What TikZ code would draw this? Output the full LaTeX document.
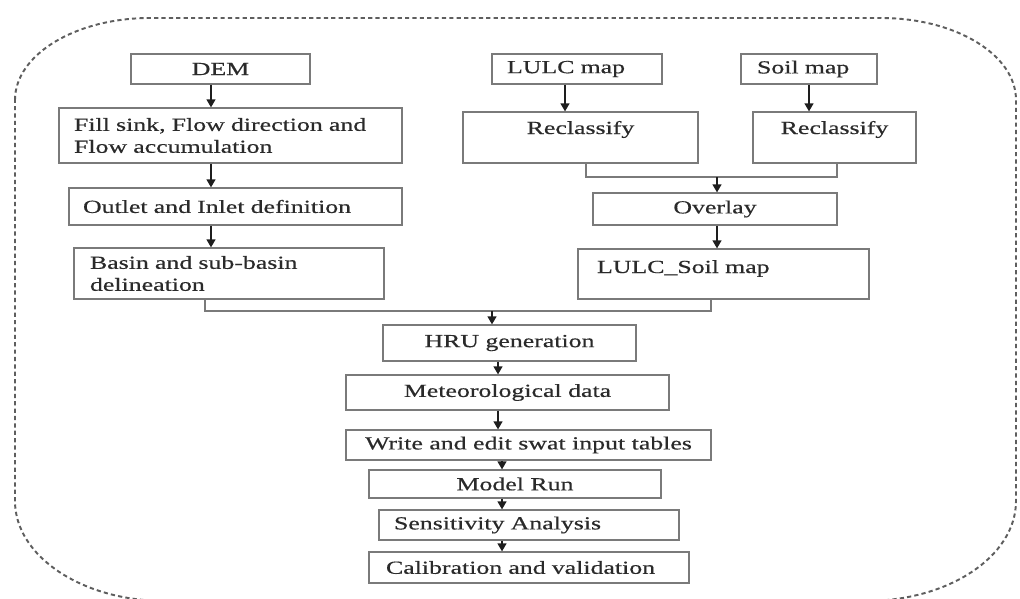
\documentclass[tikz,border=0pt]{standalone}
\usepackage{fontspec}
\setmainfont{Liberation Serif}[FakeStretch=1.4, FakeBold=0.5]
\usepackage{tikz}
\usetikzlibrary{positioning, arrows.meta, calc}
\definecolor{boxLine}{HTML}{7a7a7a}
\definecolor{frameLine}{HTML}{5e5e5e}
\definecolor{arrLine}{HTML}{1e1e1e}
\definecolor{boxText}{HTML}{2a2a2a}

\begin{document}
\begin{tikzpicture}[x=0.02cm, y=-0.02cm, box/.style={draw=boxLine, line width=0.7pt, inner sep=0pt, minimum height=0.6cm, align=center, font=\fontsize{10.5}{12.5}\selectfont, text=boxText},lbox/.style={box, align=left, inner xsep=0.3cm},topbox/.style={box, text height=0.44cm, text depth=0.58cm},arr/.style={-{Triangle[length=4.5pt, width=5pt]}, line width=0.8pt, draw=arrLine},link/.style={draw=boxLine, line width=0.7pt},frame/.style={draw=frameLine, line width=1.1pt, dash pattern=on 2.4pt off 1.8pt}]
\useasboundingbox (0,0) rectangle (1020,598);
\clip (0,0) rectangle (1020,598);
\draw[frame] (15,100) arc[start angle=180, end angle=270, x radius=135, y radius=82] -- (881,18) arc[start angle=270, end angle=360, x radius=135, y radius=82] -- (1016,501) arc[start angle=0, end angle=90, x radius=150, y radius=100] -- (165,601) arc[start angle=90, end angle=180, x radius=150, y radius=100] -- cycle;
\node[box, minimum width=3.58cm, minimum height=0.60cm] (dem) at (220.5,69) {DEM};
\node[lbox, text width=6.26cm, minimum height=1.10cm] (fill) at (230.5,135.5) {Fill sink, Flow direction and\\Flow accumulation};
\node[lbox, text width=6.10cm, inner xsep=0.28cm, minimum height=0.74cm] (outlet) at (235.5,206.5) {Outlet and Inlet definition};
\node[lbox, text width=5.56cm, inner xsep=0.32cm, minimum height=1.02cm] (basin) at (229,273.5) {Basin and sub-basin\\delineation};
\node[lbox, text width=2.80cm, minimum height=0.60cm] (lulc) at (577,69) {LULC map};
\node[lbox, text width=2.08cm, inner xsep=0.32cm, minimum height=0.60cm] (soil) at (809,69) {Soil map};
\node[topbox, minimum width=4.70cm] (recl) at (580.5,137.5) {Reclassify};
\node[topbox, minimum width=3.26cm] (recr) at (834.5,137.5) {Reclassify};
\node[box, minimum width=4.88cm, minimum height=0.64cm] (overlay) at (715,209) {Overlay};
\node[lbox, text width=5.06cm, inner xsep=0.38cm, text height=0.48cm, text depth=0.52cm] (lsoil) at (723.5,274) {LULC\_Soil map};
\node[box, minimum width=5.06cm, minimum height=0.72cm] (hru) at (509.5,343) {HRU generation};
\node[box, minimum width=6.46cm, minimum height=0.70cm] (met) at (507.5,392.5) {Meteorological data};
\node[box, minimum width=7.30cm, minimum height=0.60cm] (write) at (528.5,445) {Write and edit swat input tables};
\node[box, minimum width=5.84cm, minimum height=0.56cm] (model) at (515,484) {Model Run};
\node[lbox, text width=5.40cm, minimum height=0.60cm] (sens) at (529,525) {Sensitivity Analysis};
\node[lbox, text width=5.72cm, inner xsep=0.34cm, minimum height=0.62cm] (calib) at (529,567.5) {Calibration and validation};
\coordinate (rjoin) at (717,177);
\coordinate (bjoin) at (492,311);
\draw[arr] ([xshift=-0.19cm]dem.south) -- ([xshift=-0.19cm]dem.south |- fill.north);
\draw[arr] ([xshift=-0.39cm]fill.south) -- ([xshift=-0.39cm]fill.south |- outlet.north);
\draw[arr] ([xshift=-0.49cm]outlet.south) -- ([xshift=-0.49cm]outlet.south |- basin.north);
\draw[arr] ([xshift=-0.24cm]lulc.south) -- ([xshift=-0.24cm]lulc.south |- recl.north);
\draw[arr] (soil.south) -- (soil.south |- recr.north);
\draw[link] ([xshift=0.11cm]recl.south) |- (rjoin) -| ([xshift=0.05cm]recr.south);
\draw[arr] (rjoin) -- (rjoin |- overlay.north);
\draw[arr] ([xshift=0.04cm]overlay.south) -- ([xshift=0.04cm]overlay.south |- lsoil.north);
\draw[link] ([xshift=-0.48cm]basin.south) |- (bjoin) -| ([xshift=-0.25cm]lsoil.south);
\draw[arr] (bjoin) -- (bjoin |- hru.north);
\draw[arr] ([xshift=-0.23cm]hru.south) -- ([xshift=-0.23cm]hru.south |- met.north);
\draw[arr] ([xshift=-0.19cm]met.south) -- ([xshift=-0.19cm]met.south |- write.north);
\draw[arr] ([xshift=-0.53cm]write.south) -- ([xshift=-0.53cm]write.south |- model.north);
\draw[arr] ([xshift=-0.26cm]model.south) -- ([xshift=-0.26cm]model.south |- sens.north);
\draw[arr] ([xshift=-0.54cm]sens.south) -- ([xshift=-0.54cm]sens.south |- calib.north);
\end{tikzpicture}
\end{document}
